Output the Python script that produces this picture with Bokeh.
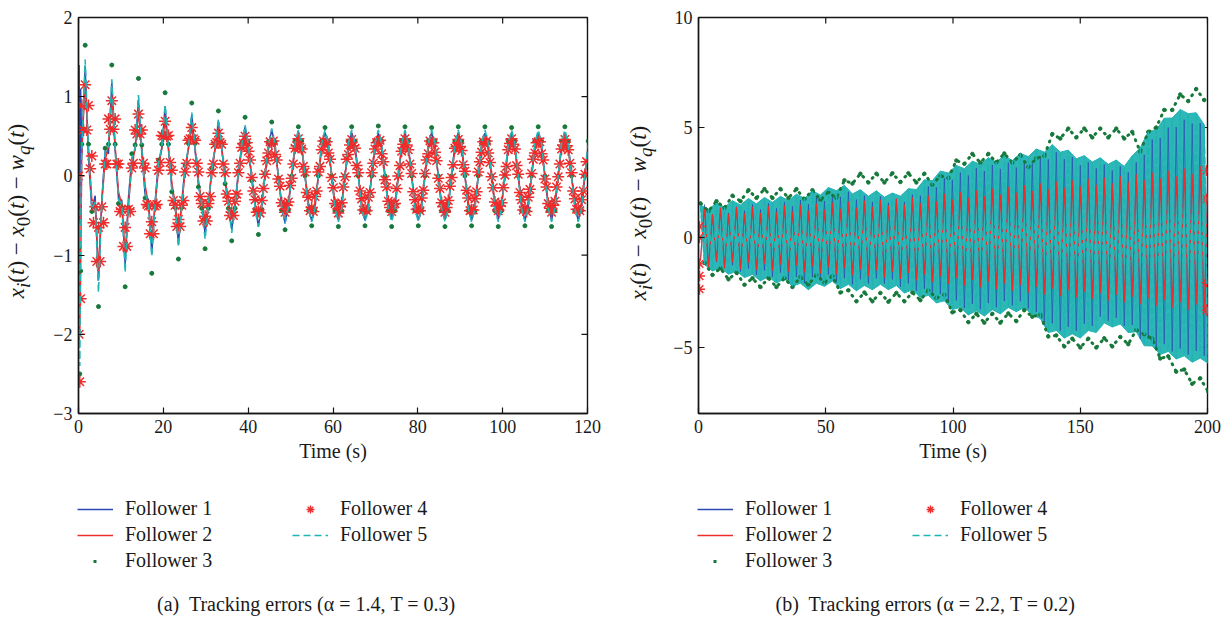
import math
from bokeh.plotting import figure
from bokeh.models import Range1d, FixedTicker, Legend, LegendItem, Label, Div
from bokeh.layouts import row, column
from bokeh.embed import file_html
from bokeh.resources import INLINE

SERIF = "Liberation Serif"
BLUE = "#2a47b3"
RED = "#ee2c2c"
GREEN = "#16783a"
CYAN = "#22b3b3"
INK = "#151515"

# ---------------- Panel (a) data ----------------
# time samples: short start-up transient, then quarter-period samples
t_a = [0.0, 0.15, 0.3, 0.5] + [round(k * 0.7854, 3) for k in range(1, 154)]

f1_a = [0.0, 1.4, -0.6, 1.1,
        0.27, 1.38, 0.22, -0.42, -0.25, -1.32, -0.30,
        0.32, 0.28, 1.18, 0.33, -0.28, -0.31, -1.12, -0.27,
        0.22, 0.33, 0.96, 0.29, -0.24, -0.30, -0.98, -0.33,
        0.17, 0.34, 0.88, 0.33, -0.15, -0.35, -0.86, -0.33,
        0.12, 0.34, 0.77, 0.32, -0.12, -0.33, -0.74, -0.34,
        0.08, 0.35, 0.69, 0.36, -0.08, -0.35, -0.68, -0.34,
        0.05, 0.37, 0.62, 0.36, -0.05, -0.36, -0.64, -0.36,
        0.02, 0.38, 0.58, 0.39, -0.02, -0.39, -0.60, -0.38,
        0.00, 0.39, 0.56, 0.39, 0.00, -0.39, -0.57, -0.39,
        0.00, 0.39, 0.55, 0.39, 0.00, -0.40, -0.56, -0.39,
        0.01, 0.38, 0.55, 0.39, 0.00, -0.39, -0.56, -0.39,
        0.00, 0.39, 0.54, 0.38, -0.01, -0.39, -0.55, -0.39,
        0.00, 0.39, 0.55, 0.39, 0.00, -0.39, -0.56, -0.38,
        0.00, 0.38, 0.55, 0.39, 0.00, -0.39, -0.55, -0.39,
        0.01, 0.39, 0.55, 0.39, 0.00, -0.39, -0.56, -0.39,
        0.00, 0.39, 0.54, 0.39, 0.00, -0.39, -0.55, -0.39,
        0.00, 0.39, 0.55, 0.38, 0.00, -0.39, -0.56, -0.39,
        0.00, 0.39, 0.55, 0.39, 0.00, -0.38, -0.55, -0.39,
        0.00, 0.39, 0.55, 0.39, 0.00, -0.39, -0.56, -0.39,
        0.00, 0.39]

f2_a = [0.0, -1.0, -2.0, -1.2,
        0.34, 1.20, 0.34, -0.30, -0.34, -1.20, -0.34,
        0.20, 0.37, 1.00, 0.37, -0.20, -0.37, -1.00, -0.37,
        0.12, 0.36, 0.80, 0.36, -0.12, -0.36, -0.80, -0.36,
        0.08, 0.36, 0.70, 0.36, -0.08, -0.36, -0.70, -0.36,
        0.05, 0.35, 0.61, 0.35, -0.05, -0.35, -0.61, -0.35,
        0.03, 0.34, 0.55, 0.34, -0.03, -0.34, -0.55, -0.34,
        0.00, 0.35, 0.50, 0.35, 0.00, -0.35, -0.50, -0.35,
        0.00, 0.34, 0.48, 0.34, 0.00, -0.34, -0.48, -0.34,
        0.00, 0.34, 0.48, 0.34, 0.00, -0.34, -0.48, -0.34,
        0.00, 0.34, 0.48, 0.34, 0.00, -0.34, -0.48, -0.34,
        0.00, 0.34, 0.48, 0.34, 0.00, -0.34, -0.48, -0.34,
        0.00, 0.34, 0.48, 0.34, 0.00, -0.34, -0.48, -0.34,
        0.00, 0.34, 0.48, 0.34, 0.00, -0.34, -0.48, -0.34,
        0.00, 0.34, 0.48, 0.34, 0.00, -0.34, -0.48, -0.34,
        0.00, 0.34, 0.48, 0.34, 0.00, -0.34, -0.48, -0.34,
        0.00, 0.34, 0.48, 0.34, 0.00, -0.34, -0.48, -0.34,
        0.00, 0.34, 0.48, 0.34, 0.00, -0.34, -0.48, -0.34,
        0.00, 0.34, 0.48, 0.34, 0.00, -0.34, -0.48, -0.34,
        0.00, 0.34, 0.48, 0.34, 0.00, -0.34, -0.48, -0.34,
        0.00, 0.34]

f3_a = [0.0, -0.9, -2.5, -1.2,
        0.40, 1.65, 0.40, -0.45, -0.40, -1.65, -0.40,
        0.35, 0.40, 1.40, 0.40, -0.35, -0.40, -1.40, -0.40,
        0.28, 0.39, 1.23, 0.39, -0.28, -0.39, -1.23, -0.39,
        0.20, 0.40, 1.05, 0.40, -0.20, -0.40, -1.05, -0.40,
        0.14, 0.41, 0.92, 0.41, -0.14, -0.41, -0.92, -0.41,
        0.10, 0.41, 0.82, 0.41, -0.10, -0.41, -0.82, -0.41,
        0.06, 0.42, 0.74, 0.42, -0.06, -0.42, -0.74, -0.42,
        0.03, 0.43, 0.68, 0.43, -0.03, -0.43, -0.68, -0.43,
        0.00, 0.44, 0.62, 0.44, 0.00, -0.44, -0.63, -0.44,
        0.00, 0.44, 0.61, 0.44, 0.00, -0.44, -0.64, -0.44,
        0.00, 0.44, 0.62, 0.44, 0.00, -0.44, -0.63, -0.44,
        0.00, 0.44, 0.63, 0.44, 0.00, -0.44, -0.64, -0.44,
        0.00, 0.44, 0.62, 0.44, 0.00, -0.44, -0.63, -0.44,
        0.00, 0.44, 0.61, 0.44, 0.00, -0.44, -0.64, -0.44,
        0.00, 0.44, 0.62, 0.44, 0.00, -0.44, -0.63, -0.44,
        0.00, 0.44, 0.62, 0.44, 0.00, -0.44, -0.64, -0.44,
        0.00, 0.44, 0.61, 0.44, 0.00, -0.44, -0.63, -0.44,
        0.00, 0.44, 0.62, 0.44, 0.00, -0.44, -0.64, -0.44,
        0.00, 0.44, 0.62, 0.44, 0.00, -0.44, -0.63, -0.44,
        0.00, 0.44]

# Follower 4 (stars) is sampled twice as densely
t_a4 = [0.0, 0.15, 0.3, 0.5] + [round(k * 0.3927, 3) for k in range(2, 306)]
f4_a = [0.0, -2.0, -2.6, -1.55,
        0.89, 0.58, 1.15, 0.58, 0.89, 0.09, 0.25, -0.59, -0.39, -1.08, -0.65, -1.08, -0.39, -0.59,
        0.15, 0.15, 0.72, 0.59, 0.95, 0.59, 0.72, 0.15, 0.15, -0.45, -0.42, -0.89, -0.65, -0.89, -0.42, -0.45,
        0.10, 0.16, 0.58, 0.53, 0.78, 0.53, 0.58, 0.16, 0.10, -0.36, -0.38, -0.73, -0.58, -0.73, -0.38, -0.36,
        0.07, 0.17, 0.51, 0.50, 0.69, 0.50, 0.51, 0.17, 0.07, -0.31, -0.37, -0.64, -0.55, -0.64, -0.37, -0.31,
        0.05, 0.16, 0.45, 0.47, 0.61, 0.47, 0.45, 0.16, 0.05, -0.26, -0.35, -0.57, -0.51, -0.57, -0.35, -0.26,
        0.04, 0.15, 0.40, 0.42, 0.54, 0.42, 0.40, 0.15, 0.04, -0.23, -0.32, -0.50, -0.46, -0.50, -0.32, -0.23,
        0.04, 0.16, 0.36, 0.41, 0.50, 0.42, 0.31, 0.20, -0.02, -0.19, -0.30, -0.46, -0.45, -0.47, -0.31, -0.16,
        0.02, 0.19, 0.29, 0.43, 0.41, 0.44, 0.27, 0.20, -0.04, -0.13, -0.34, -0.38, -0.46, -0.37, -0.33, -0.12,
        -0.03, 0.15, 0.35, 0.38, 0.47, 0.36, 0.34, 0.12, 0.05, -0.21, -0.27, -0.44, -0.40, -0.45, -0.26, -0.19,
        0.05, 0.12, 0.33, 0.44, 0.40, 0.43, 0.29, 0.21, -0.02, -0.15, -0.35, -0.37, -0.47, -0.39, -0.34, -0.14,
        -0.01, 0.21, 0.27, 0.39, 0.46, 0.38, 0.35, 0.13, 0.04, -0.19, -0.29, -0.43, -0.42, -0.44, -0.27, -0.21,
        0.04, 0.16, 0.34, 0.42, 0.43, 0.45, 0.28, 0.18, -0.05, -0.14, -0.32, -0.40, -0.45, -0.36, -0.35, -0.16,
        0.00, 0.13, 0.31, 0.40, 0.47, 0.39, 0.33, 0.15, 0.03, -0.20, -0.30, -0.42, -0.41, -0.44, -0.28, -0.18,
        0.03, 0.20, 0.28, 0.44, 0.42, 0.42, 0.30, 0.19, -0.03, -0.16, -0.34, -0.39, -0.46, -0.40, -0.31, -0.13,
        -0.02, 0.14, 0.35, 0.37, 0.46, 0.37, 0.32, 0.14, 0.06, -0.18, -0.28, -0.44, -0.43, -0.43, -0.29, -0.20,
        0.05, 0.18, 0.30, 0.43, 0.41, 0.44, 0.29, 0.17, -0.01, -0.15, -0.33, -0.38, -0.44, -0.38, -0.34, -0.15,
        0.01, 0.12, 0.33, 0.41, 0.47, 0.40, 0.34, 0.13, 0.02, -0.21, -0.30, -0.43, -0.40, -0.45, -0.27, -0.17,
        0.03, 0.21, 0.29, 0.42, 0.43, 0.43, 0.28, 0.20, -0.04, -0.14, -0.35, -0.41, -0.46, -0.37, -0.32, -0.14,
        -0.01, 0.15, 0.34, 0.39, 0.46, 0.38, 0.33, 0.16, 0.04, -0.19, -0.29, -0.42, -0.42, -0.44, -0.30, -0.19,
        0.02, 0.18]

f5_a = [0.0, -1.2, -2.4, -0.8,
        0.33, 1.47, 0.33, -0.42, -0.33, -1.47, -0.33,
        0.30, 0.35, 1.22, 0.35, -0.30, -0.35, -1.22, -0.35,
        0.22, 0.35, 1.02, 0.35, -0.22, -0.35, -1.02, -0.35,
        0.16, 0.37, 0.90, 0.37, -0.16, -0.37, -0.90, -0.37,
        0.12, 0.36, 0.80, 0.36, -0.12, -0.36, -0.80, -0.36,
        0.08, 0.37, 0.72, 0.37, -0.08, -0.37, -0.72, -0.37,
        0.04, 0.39, 0.64, 0.39, -0.04, -0.39, -0.64, -0.39,
        0.02, 0.39, 0.60, 0.39, -0.02, -0.39, -0.60, -0.39,
        0.00, 0.41, 0.58, 0.41, 0.00, -0.41, -0.58, -0.41,
        0.00, 0.41, 0.58, 0.41, 0.00, -0.41, -0.58, -0.41,
        0.00, 0.41, 0.58, 0.41, 0.00, -0.41, -0.58, -0.41,
        0.00, 0.41, 0.58, 0.41, 0.00, -0.41, -0.58, -0.41,
        0.00, 0.41, 0.58, 0.41, 0.00, -0.41, -0.58, -0.41,
        0.00, 0.41, 0.58, 0.41, 0.00, -0.41, -0.58, -0.41,
        0.00, 0.41, 0.58, 0.41, 0.00, -0.41, -0.58, -0.41,
        0.00, 0.41, 0.58, 0.41, 0.00, -0.41, -0.58, -0.41,
        0.00, 0.41, 0.58, 0.41, 0.00, -0.41, -0.58, -0.41,
        0.00, 0.41, 0.58, 0.41, 0.00, -0.41, -0.58, -0.41,
        0.00, 0.41, 0.58, 0.41, 0.00, -0.41, -0.58, -0.41,
        0.00, 0.41]

# ---------------- Panel (b) data ----------------
# times of the upper / lower extremes of the fast oscillation
t_up = [round(0.7854 + 3.1416 * m, 3) for m in range(64)]
t_lo = [round(2.3562 + 3.1416 * m, 3) for m in range(64)]

f1_b_up = [1.5, 1.05, 1.32, 1.12, 1.4, 1.22, 1.5, 1.28, 1.55, 1.33, 1.6, 1.42, 1.7, 1.52, 1.85, 1.66,
           1.98, 1.85, 2.08, 1.72, 1.9, 1.62, 1.86, 1.58, 1.76, 1.62, 1.95, 1.9, 2.32, 2.28, 2.7, 2.62,
           2.95, 2.82, 3.15, 3.02, 3.3, 3.12, 3.4, 3.18, 3.5, 3.36, 3.68, 3.55, 3.88, 3.56, 3.65, 3.28,
           3.42, 3.14, 3.32, 3.05, 3.24, 2.96, 3.42, 3.76, 4.45, 4.52, 5.0, 5.02, 5.35, 5.18, 5.2, 4.75]
f1_b_lo = [-0.98, -1.27, -1.12, -1.4, -1.26, -1.55, -1.41, -1.7, -1.5, -1.79, -1.6, -1.93, -1.79, -2.07, -1.8, -1.94,
           -1.7, -2.04, -1.85, -2.14, -1.9, -2.09, -1.85, -2.09, -1.9, -2.23, -2.09, -2.42, -2.33, -2.66, -2.57, -2.95,
           -2.86, -3.2, -3.02, -3.26, -2.98, -3.17, -2.89, -3.08, -2.9, -3.23, -3.38, -3.98, -3.9, -4.24, -4.06, -4.25,
           -3.92, -4.02, -3.6, -3.78, -3.65, -4.02, -3.98, -4.6, -4.6, -4.98, -4.85, -5.18, -5.05, -5.32, -5.15, -5.38]

f2_b_up = [1.35, 1.05, 1.36, 1.07, 1.38, 1.09, 1.4, 1.11, 1.43, 1.15, 1.46, 1.18, 1.49, 1.21, 1.54, 1.26,
           1.58, 1.3, 1.63, 1.35, 1.68, 1.4, 1.73, 1.45, 1.77, 1.5, 1.83, 1.57, 1.91, 1.65, 1.99, 1.73,
           2.07, 1.81, 2.15, 1.89, 2.23, 1.96, 2.3, 2.04, 2.38, 2.12, 2.46, 2.2, 2.54, 2.27, 2.6, 2.33,
           2.67, 2.4, 2.73, 2.46, 2.8, 2.53, 2.87, 2.61, 2.95, 2.7, 3.05, 2.8, 3.15, 2.9, 3.25, 3.0]
f2_b_lo = [-1.05, -1.37, -1.08, -1.4, -1.12, -1.44, -1.15, -1.47, -1.19, -1.51, -1.23, -1.55, -1.27, -1.59, -1.31, -1.63,
           -1.35, -1.67, -1.4, -1.72, -1.45, -1.77, -1.5, -1.82, -1.55, -1.88, -1.61, -1.95, -1.69, -2.03, -1.77, -2.11,
           -1.85, -2.19, -1.93, -2.27, -2.01, -2.35, -2.09, -2.43, -2.17, -2.51, -2.25, -2.59, -2.33, -2.67, -2.4, -2.73,
           -2.47, -2.8, -2.53, -2.87, -2.61, -2.95, -2.69, -3.03, -2.77, -3.11, -2.85, -3.2, -2.95, -3.3, -3.05, -3.4]

f3_b_up = [1.55, 1.2, 1.65, 1.35, 1.9, 1.65, 2.15, 1.8, 2.2, 1.8, 2.2, 1.8, 2.2, 1.75, 2.15, 1.7,
           2.05, 1.8, 2.6, 2.45, 2.9, 2.5, 2.9, 2.5, 2.92, 2.52, 2.92, 2.5, 2.9, 2.4, 2.8, 2.7,
           3.5, 3.35, 3.8, 3.4, 3.8, 3.42, 3.82, 3.4, 3.75, 3.2, 3.6, 3.7, 4.7, 4.5, 4.95, 4.55,
           4.95, 4.55, 4.95, 4.55, 4.95, 4.5, 4.8, 3.9, 4.8, 5.0, 5.8, 5.8, 6.5, 6.2, 6.75, 6.25]
f3_b_lo = [-1.15, -1.7, -1.4, -1.9, -1.6, -2.15, -1.85, -2.25, -1.85, -2.25, -1.85, -2.25, -1.8, -2.15, -1.7, -2.05,
           -1.75, -2.5, -2.4, -2.9, -2.5, -2.9, -2.52, -2.92, -2.52, -2.9, -2.5, -2.85, -2.4, -2.75, -2.6, -3.4,
           -3.3, -3.85, -3.47, -3.87, -3.47, -3.87, -3.45, -3.8, -3.3, -3.6, -3.5, -4.5, -4.45, -4.95, -4.6, -5.0,
           -4.6, -5.0, -4.58, -4.95, -4.52, -4.85, -4.2, -4.4, -4.6, -5.5, -5.4, -6.1, -6.0, -6.65, -6.4, -7.0]

f4_b_t = [0.4, 0.4, 0.4, 0.4, 0.4, 199.6, 199.6, 199.6, 199.6]
f4_b_v = [0.5, 0.0, -1.2, -1.75, -2.35, 3.05, 1.75, -2.05, -3.3]

f5_b_up = [1.47, 1.28, 1.57, 1.38, 1.67, 1.48, 1.77, 1.53, 1.82, 1.6, 1.87, 1.68, 1.97, 1.78, 2.12, 1.93,
           2.27, 2.13, 2.37, 1.98, 2.17, 1.88, 2.12, 1.83, 2.02, 1.88, 2.22, 2.18, 2.62, 2.58, 3.02, 2.93,
           3.27, 3.13, 3.47, 3.33, 3.62, 3.43, 3.72, 3.5, 3.82, 3.68, 4.02, 3.88, 4.22, 3.88, 3.97, 3.58,
           3.72, 3.43, 3.62, 3.33, 3.52, 3.23, 3.72, 4.08, 4.82, 4.88, 5.42, 5.43, 5.82, 5.63, 5.67, 5.13]
f5_b_lo = [-1.23, -1.52, -1.38, -1.67, -1.53, -1.82, -1.68, -1.97, -1.78, -2.07, -1.88, -2.22, -2.08, -2.37, -2.08, -2.22,
           -1.98, -2.32, -2.13, -2.42, -2.18, -2.37, -2.13, -2.37, -2.18, -2.52, -2.38, -2.72, -2.63, -2.97, -2.88, -3.27,
           -3.18, -3.52, -3.33, -3.57, -3.28, -3.47, -3.18, -3.37, -3.18, -3.52, -3.68, -4.32, -4.23, -4.57, -4.38, -4.57,
           -4.23, -4.32, -3.88, -4.07, -3.93, -4.32, -4.28, -4.92, -4.93, -5.32, -5.18, -5.52, -5.38, -5.67, -5.48, -5.72]

# ---------------- axes / labels ----------------
xticks_a = [0, 20, 40, 60, 80, 100, 120]
xlabels_a = ["0", "20", "40", "60", "80", "100", "120"]
yticks_a = [-3, -2, -1, 0, 1, 2]
ylabels_a = ["\u22123", "\u22122", "\u22121", "0", "1", "2"]
xticks_b = [0, 50, 100, 150, 200]
xlabels_b = ["0", "50", "100", "150", "200"]
yticks_b = [-5, 0, 5, 10]
ylabels_b = ["\u22125", "0", "5", "10"]
series_names = ["Follower 1", "Follower 2", "Follower 3", "Follower 4", "Follower 5"]
captions = ["(a)\u00a0 Tracking errors (\u03b1 = 1.4, T = 0.3)",
            "(b)\u00a0 Tracking errors (\u03b1 = 2.2, T = 0.2)"]
ylabel_html = ("<i>x<sub>i</sub></i>(<i>t</i>) \u2212 <i>x</i><sub>0</sub>(<i>t</i>) "
               "\u2212 <i>w<sub>q</sub></i>(<i>t</i>)")

TOP_H = 465     # plot row height
BOT_H = 153     # legend + caption row height


def style_axis(ax, ticks, labels):
    ax.ticker = FixedTicker(ticks=ticks)
    ax.major_label_overrides = {t: l for t, l in zip(ticks, labels)}
    ax.major_tick_in = 6
    ax.major_tick_out = 0
    ax.minor_tick_in = 0
    ax.minor_tick_out = 0
    ax.axis_line_color = INK
    ax.axis_line_width = 1.4
    ax.major_tick_line_color = INK
    ax.major_tick_line_width = 1.2
    ax.major_label_text_font = SERIF
    ax.major_label_text_color = "#1a1a1a"
    ax.major_label_text_font_size = "18px"
    ax.major_label_standoff = 6


def make_fig(xr, yr, xt, xl, yt, yl, width, bl, br):
    p = figure(width=width, height=TOP_H, x_range=Range1d(*xr), y_range=Range1d(*yr),
               output_backend="svg", toolbar_location=None, title=None,
               min_border_left=bl, min_border_right=br, min_border_top=17, min_border_bottom=52)
    p.xgrid.visible = False
    p.ygrid.visible = False
    p.outline_line_color = INK
    p.outline_line_width = 1.4
    style_axis(p.xaxis[0], xt, xl)
    style_axis(p.yaxis[0], yt, yl)
    p.xaxis[0].axis_label = "Time (s)"
    p.xaxis[0].axis_label_text_font = SERIF
    p.xaxis[0].axis_label_text_font_style = "normal"
    p.xaxis[0].axis_label_text_font_size = "20px"
    p.xaxis[0].axis_label_text_color = "#1a1a1a"
    p.xaxis[0].axis_label_standoff = 4
    # inward ticks on the top and right edges of the box
    p.scatter(xt, [yr[1]] * len(xt), marker="dash", angle=math.pi / 2, size=12,
              line_color=INK, line_width=1.2)
    p.scatter([xr[1]] * len(yt), yt, marker="dash", size=12, line_color=INK, line_width=1.2)
    return p


def blank_fig(width, height):
    f = figure(width=width, height=height, x_range=Range1d(0, 1), y_range=Range1d(0, 1),
               output_backend="svg", toolbar_location=None, title=None,
               x_axis_type=None, y_axis_type=None, min_border=0,
               min_border_left=0, min_border_right=0, min_border_top=0, min_border_bottom=0)
    f.xgrid.visible = False
    f.ygrid.visible = False
    f.outline_line_color = None
    return f


def ylabel_div(width, cx, cy):
    # rotated y-axis title, centred at (cx, cy) inside its column
    html = ('<div style="position:absolute; left:%dpx; top:%dpx; '
            'transform:translate(-50%%,-50%%) rotate(-90deg); white-space:nowrap; '
            "font-family:'Liberation Serif',serif; font-size:23px; line-height:1; "
            'color:#1a1a1a;">%s</div>' % (cx, cy, ylabel_html))
    return Div(text=html, width=width, height=TOP_H, margin=0,
               styles={"position": "relative", "overflow": "visible"})


def legend_fig(width, lx, cap_text, cap_x, cyan_dash):
    f = blank_fig(width, BOT_H)
    # legend samples only: the points sit outside the visible range
    r1 = f.line([5, 6], [5, 5], line_color=BLUE, line_width=1.6)
    r2 = f.line([5, 6], [5, 5], line_color=RED, line_width=1.6)
    r3 = f.line([5, 6], [5, 5], line_color=GREEN, line_width=3, line_dash="0 16 3 100")
    r4 = f.scatter([5], [5], marker="asterisk", size=11, line_color=RED, line_width=1.4)
    r5 = f.line([5, 6], [5, 5], line_color=CYAN, line_width=1.6, line_dash=cyan_dash)
    items = [LegendItem(label=n, renderers=[r]) for n, r in zip(series_names, [r1, r2, r3, r4, r5])]
    lg = Legend(items=items, location=(lx, 46), orientation="vertical", nrows=3,
                glyph_width=36, glyph_height=20, label_height=20, label_width=164,
                spacing=3, label_standoff=12, padding=0, margin=0,
                border_line_alpha=0, background_fill_alpha=0,
                label_text_font=SERIF, label_text_font_size="20px", label_text_color="#1a1a1a")
    f.add_layout(lg)
    f.add_layout(Label(x=cap_x, y=15, x_units="screen", y_units="screen", text=cap_text,
                       text_align="center", text_baseline="middle", text_font=SERIF,
                       text_font_size="20px", text_color="#1a1a1a"))
    return f


# ---------------- panel (a) ----------------
pa = make_fig((0, 120), (-3, 2), xticks_a, xlabels_a, yticks_a, ylabels_a, 575, 30, 36)
pa.line(t_a, f1_a, line_color=BLUE, line_width=1.5)
pa.line(t_a, f2_a, line_color=RED, line_width=1.5)
pa.scatter(t_a, f3_a, marker="circle", size=4, fill_color=GREEN, line_color=GREEN)
pa.scatter(t_a4, f4_a, marker="asterisk", size=12, line_color=RED, line_width=1.5)
pa.line(t_a, f5_a, line_color=CYAN, line_width=1.6, line_dash="7 4")


# ---------------- panel (b) ----------------
def zig(first, second, ta, tb):
    xs, ys = [], []
    for a, b, x1, x2 in zip(first, second, ta, tb):
        xs += [x1, x2]
        ys += [a, b]
    return xs, ys


pb = make_fig((0, 200), (-8, 10), xticks_b, xlabels_b, yticks_b, ylabels_b, 555, 30, 16)
pb.patch(t_up + t_lo[::-1], f5_b_up + f5_b_lo[::-1], fill_color=CYAN, fill_alpha=0.95,
         line_color=CYAN, line_width=1)
bx1, by1 = zig(f1_b_lo, f1_b_up, t_up, t_lo)
pb.line(bx1, by1, line_color=BLUE, line_width=1.0, line_alpha=0.65)
bx2, by2 = zig(f2_b_lo, f2_b_up, t_up, t_lo)
pb.line(bx2, by2, line_color=RED, line_width=1.1)
pb.line(t_up, f3_b_up, line_color=GREEN, line_width=3, line_dash="1 6", line_cap="round")
pb.line(t_lo, f3_b_lo, line_color=GREEN, line_width=3, line_dash="1 6", line_cap="round")
pb.scatter(t_up + t_lo, f3_b_up + f3_b_lo, marker="circle", size=3.5,
           fill_color=GREEN, line_color=GREEN)
pb.scatter(f4_b_t, f4_b_v, marker="asterisk", size=11, line_color=RED, line_width=1.4)
bx5, by5 = zig(f5_b_up, f5_b_lo, t_up, t_lo)
pb.line(bx5, by5, line_color=CYAN, line_width=1.4, line_dash="7 3")

yl_a = ylabel_div(48, 19, 211)
yl_b = ylabel_div(45, 18, 213)
lg_a = legend_fig(623, 77, captions[0], 306, "7 4")
lg_b = legend_fig(600, 74, captions[1], 302, "7 4")

layout = column(row(yl_a, pa, yl_b, pb), row(lg_a, lg_b))
open("out.html", "w").write(file_html(layout, INLINE))
